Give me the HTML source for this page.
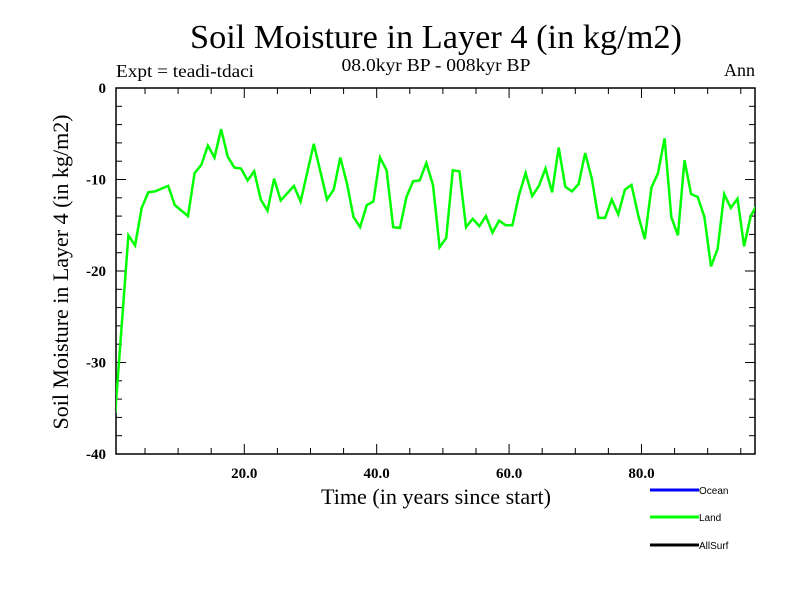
<!DOCTYPE html>
<html><head><meta charset="utf-8"><style>
html,body{margin:0;padding:0;background:#fff}
svg{display:block}
text{font-family:"Liberation Serif",serif;fill:#000}
</style></head><body>
<svg id="chart" width="800" height="600" viewBox="0 0 800 600" xmlns="http://www.w3.org/2000/svg">
<text x="436" y="48" font-size="34" text-anchor="middle" textLength="492" lengthAdjust="spacingAndGlyphs">Soil Moisture in Layer 4 (in kg/m2)</text>
<text x="116" y="77" font-size="18" textLength="138" lengthAdjust="spacingAndGlyphs">Expt = teadi-tdaci</text>
<text x="436" y="71" font-size="18" text-anchor="middle" textLength="189" lengthAdjust="spacingAndGlyphs">08.0kyr BP - 008kyr BP</text>
<text x="755" y="76" font-size="18" text-anchor="end">Ann</text>
<text transform="translate(68,272) rotate(-90)" font-size="22" text-anchor="middle" textLength="315" lengthAdjust="spacingAndGlyphs">Soil Moisture in Layer 4 (in kg/m2)</text>
<text x="436" y="504" font-size="22" text-anchor="middle" textLength="230" lengthAdjust="spacingAndGlyphs">Time (in years since start)</text>
<g id="axes"></g>
<g id="series"></g>
<g>
 <g><line x1="650" y1="490" x2="699" y2="490" stroke="#0000ff" stroke-width="3"/><text x="699" y="494" font-size="10" style="font-family:'Liberation Sans',sans-serif">Ocean</text></g>
 <g><line x1="650" y1="517" x2="699" y2="517" stroke="#00ff00" stroke-width="3"/><text x="699" y="521" font-size="10" style="font-family:'Liberation Sans',sans-serif">Land</text></g>
 <g><line x1="650" y1="545" x2="699" y2="545" stroke="#000" stroke-width="3"/><text x="699" y="549" font-size="10" style="font-family:'Liberation Sans',sans-serif">AllSurf</text></g>
</g>
</svg>
<script>
const years = [0.5,2.5,3.5,4.5,5.5,6.5,8.5,9.5,11.5,12.5,13.5,14.5,15.5,16.5,17.5,18.5,19.5,20.5,21.5,22.5,23.5,24.5,25.5,27.5,28.5,30.5,32.5,33.5,34.5,35.5,36.5,37.5,38.5,39.5,40.5,41.5,42.5,43.5,44.5,45.5,46.5,47.5,48.5,49.5,50.5,51.5,52.5,53.5,54.5,55.5,56.5,57.5,58.5,59.5,60.5,61.5,62.5,63.5,64.5,65.5,66.5,67.5,68.5,69.5,70.5,71.5,72.5,73.5,74.5,75.5,76.5,77.5,78.5,79.5,80.5,81.5,82.5,83.5,84.5,85.5,86.5,87.5,88.5,89.5,90.5,91.5,92.5,93.5,94.5,95.5,96.5,97.5];
const landValues = [-35.5,-16.1,-17.2,-13.1,-11.4,-11.3,-10.7,-12.8,-14.0,-9.3,-8.4,-6.3,-7.6,-4.5,-7.5,-8.7,-8.8,-10.1,-9.1,-12.2,-13.4,-9.9,-12.3,-10.7,-12.4,-6.1,-12.2,-11.1,-7.6,-10.4,-14.1,-15.2,-12.8,-12.4,-7.6,-9.0,-15.2,-15.3,-11.9,-10.2,-10.1,-8.2,-10.6,-17.4,-16.4,-9.0,-9.1,-15.2,-14.3,-15.1,-14.0,-15.8,-14.5,-15.0,-15.0,-11.7,-9.3,-11.8,-10.7,-8.8,-11.4,-6.5,-10.8,-11.3,-10.5,-7.1,-9.9,-14.2,-14.2,-12.2,-13.8,-11.1,-10.6,-13.9,-16.5,-10.9,-9.3,-5.5,-14.1,-16.1,-7.9,-11.6,-11.9,-14.1,-19.5,-17.6,-11.6,-13.1,-12.1,-17.3,-14.0,-12.7];
const xMajorTicks = [20,40,60,80];
const xTickLabels = ["20.0","40.0","60.0","80.0"];
const yMajorTicks = [0,-10,-20,-30,-40];
const yTickLabels = ["0","-10","-20","-30","-40"];

const L=116,R=755,T=88,B=454;
const X0=0.62,X1=97.15,Y0=-40,Y1=0;
const sx=v=>L+(v-X0)/(X1-X0)*(R-L);
const sy=v=>B-(v-Y0)/(Y1-Y0)*(B-T);
const NS="http://www.w3.org/2000/svg";
function mk(tag,attrs,parent){const e=document.createElementNS(NS,tag);for(const k in attrs)e.setAttribute(k,attrs[k]);parent.appendChild(e);return e;}
const axes=document.getElementById('axes');
const frame=mk('rect',{x:L,y:T,width:R-L,height:B-T,fill:'none',stroke:'#000','stroke-width':1.5},axes);


for(let v=5;v<X1;v+=5){
  const major=v%20===0, len=major?10:6, x=sx(v);
  const t1=mk('line',{x1:x,y1:B,x2:x,y2:B-len,stroke:'#000','stroke-width':1},axes);
  
  
  const t2=mk('line',{x1:x,y1:T,x2:x,y2:T+len,stroke:'#000','stroke-width':1},axes);
  
  
}
xMajorTicks.forEach((v,i)=>{
  const t=mk('text',{x:sx(v),y:B+24,'font-size':15,'text-anchor':'middle','font-weight':'bold'},axes);
  t.textContent=xTickLabels[i];
  
  
});
for(let v=-38;v<0;v+=2){
  const major=v%10===0, len=major?10:6, y=sy(v);
  const t1=mk('line',{x1:L,y1:y,x2:L+len,y2:y,stroke:'#000','stroke-width':1},axes);
  
  
  const t2=mk('line',{x1:R,y1:y,x2:R-len,y2:y,stroke:'#000','stroke-width':1},axes);
  
  
}
yMajorTicks.forEach((v,i)=>{
  const t=mk('text',{x:L-10,y:sy(v)+5,'font-size':15,'text-anchor':'end','font-weight':'bold'},axes);
  t.textContent=yTickLabels[i];
  
  
});
const series=document.getElementById('series');
mk('clipPath',{id:'clip'},series);
mk('rect',{x:L,y:T,width:R-L,height:B-T},document.getElementById('clip'));
const pts=years.map((y,i)=>sx(y).toFixed(1)+','+sy(landValues[i]).toFixed(1)).join(' ');
const line=mk('polyline',{points:pts,fill:'none',stroke:'#00ff00','stroke-width':2.5,'stroke-linejoin':'miter','clip-path':'url(#clip)'},series);


</script>
</body></html>
